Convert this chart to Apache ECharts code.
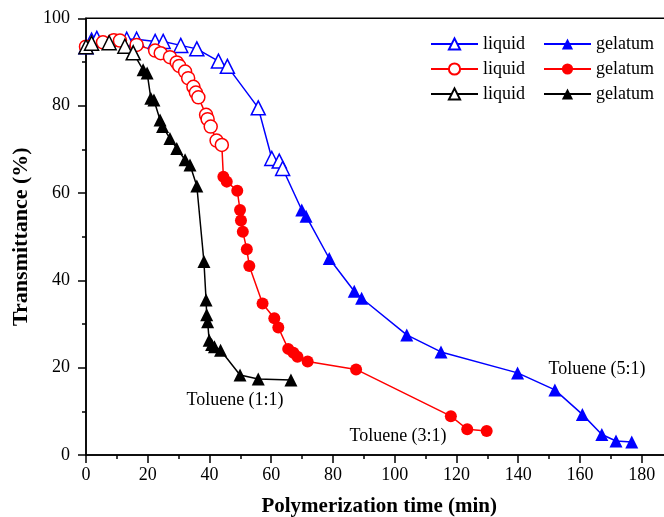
<!DOCTYPE html>
<html><head><meta charset="utf-8">
<script src="https://cdn.jsdelivr.net/npm/echarts@6/dist/echarts.min.js"></script>
<style>html,body{margin:0;padding:0;background:#fff}#c{width:664px;height:517px}</style>
</head><body><div id="c"></div>
<script>
// Toluene (5:1)
var liq51X = [0, 1.8, 3.5, 13.2, 16.4, 22.4, 25.0, 30.7, 35.9, 42.9, 45.8, 55.8, 60.2, 62.6, 63.7];
var liq51Y = [93.5, 95, 95.4, 95.2, 95.2, 94.7, 94.7, 93.8, 93, 90.2, 89, 79.5, 67.9, 67.3, 65.6];
var gel51X = [69.9, 71.3, 78.8, 86.9, 89.3, 103.9, 115, 139.8, 151.9, 160.8, 167.1, 171.7, 176.8];
var gel51Y = [56.1, 54.7, 45.0, 37.5, 35.9, 27.5, 23.6, 18.8, 14.9, 9.3, 4.7, 3.2, 3.0];
// Toluene (3:1)
var liq31X = [0, 5.5, 9, 11.0, 16.4, 22.4, 24.2, 27.2, 29.4, 30.2, 32.1, 33.1, 34.8, 35.6, 36.4, 38.9, 39.4, 40.4, 42.3, 44.0];
var liq31Y = [93.5, 94.5, 95, 94.9, 93.9, 92.6, 92.0, 91.1, 89.9, 89.1, 87.8, 86.3, 84.3, 83.0, 81.9, 77.9, 76.9, 75.2, 72.0, 71.0];
var gel31X = [44.5, 45.6, 49.0, 49.9, 50.2, 50.8, 52.1, 52.9, 57.2, 61.0, 62.3, 65.5, 67.2, 68.5, 71.8, 87.5, 118.2, 123.5, 129.8];
var gel31Y = [63.7, 62.6, 60.5, 56.1, 53.7, 51.1, 47.1, 43.3, 34.7, 31.3, 29.2, 24.3, 23.4, 22.5, 21.4, 19.6, 8.9, 5.9, 5.5];
// Toluene (1:1)
var liq11X = [0, 1.8, 7.5, 12.6, 15.3];
var liq11Y = [93.5, 94.3, 94.4, 93.6, 92.1];
var gel11X = [18.5, 19.8, 21.0, 22.0, 24.0, 24.8, 27.2, 29.4, 32.1, 33.7, 35.9, 38.2, 38.9, 39.1, 39.4, 39.9, 40.7, 41.6, 43.6, 49.9, 55.8, 66.4];
var gel11Y = [88.2, 87.5, 81.7, 81.3, 76.7, 75.2, 72.5, 70.2, 67.6, 66.4, 61.6, 44.3, 35.5, 32.1, 30.5, 26.3, 25.3, 24.8, 24.0, 18.3, 17.4, 17.2];

var xTicks = [0, 20, 40, 60, 80, 100, 120, 140, 160, 180];
var yTicks = [0, 20, 40, 60, 80, 100];
var labels = [
  {text: 'Toluene (1:1)', x: 235, y: 400},
  {text: 'Toluene (3:1)', x: 398, y: 436},
  {text: 'Toluene (5:1)', x: 597, y: 369}
];

var FONT = '"Liberation Serif", "Times New Roman", serif';

function pts(xs, ys) { return xs.map(function (x, i) { return [x, ys[i]]; }); }
function liquidData(xs, ys, gx, gy) {
  var d = pts(xs, ys);
  d.push({value: [gx[0], gy[0]], symbol: 'none'});
  return d;
}

function liquidSeries(name, color, symbol, xs, ys, gx, gy) {
  return {
    name: name, type: 'line', data: liquidData(xs, ys, gx, gy),
    symbol: symbol, symbolSize: symbol === 'circle' ? 13 : 14,
    showAllSymbol: true,
    lineStyle: {color: color, width: 1.5},
    itemStyle: {color: '#fff', borderColor: color, borderWidth: 1.5},
    z: 3
  };
}
function gelSeries(name, color, symbol, xs, ys) {
  return {
    name: name, type: 'line', data: pts(xs, ys),
    symbol: symbol, symbolSize: symbol === 'circle' ? 12 : 13,
    showAllSymbol: true,
    lineStyle: {color: color, width: 1.5},
    itemStyle: {color: color, borderColor: color, borderWidth: 0},
    z: 4
  };
}

var chart = echarts.init(document.getElementById('c'), null, {renderer: 'canvas'});
var legendText = {fontFamily: FONT, fontSize: 18, color: '#000'};
chart.setOption({
  animation: false,
  backgroundColor: '#fff',
  grid: {left: 86, top: 18.3, bottom: 62, right: -8.5, outerBoundsMode: 'none', containLabel: false,
    show: true, borderColor: '#000', borderWidth: 1.5, backgroundColor: 'transparent'},
  legend: [
    {data: ['liquid-51', 'liquid-31', 'liquid-11'], orient: 'vertical', left: 425, top: 30,
     itemWidth: 47, itemHeight: 14, itemGap: 7, textStyle: legendText,
     formatter: function (n) { return n.split('-')[0]; }, selectedMode: false},
    {data: ['gelatum-51', 'gelatum-31', 'gelatum-11'], orient: 'vertical', left: 538, top: 30,
     itemWidth: 47, itemHeight: 14, itemGap: 7, textStyle: legendText,
     formatter: function (n) { return n.split('-')[0]; }, selectedMode: false}
  ],
  xAxis: {
    type: 'value', min: 0, max: 190, interval: 20,
    name: 'Polymerization time (min)', nameLocation: 'middle', nameGap: 41,
    nameTextStyle: {fontFamily: FONT, fontSize: 21, fontWeight: 'bold', color: '#000'},
    axisLine: {show: true, onZero: false, lineStyle: {color: '#000', width: 1.5}},
    axisTick: {show: true, length: 8, lineStyle: {color: '#000', width: 1.5}},
    minorTick: {show: true, splitNumber: 2, length: 4, lineStyle: {color: '#000', width: 1.5}},
    splitLine: {show: false},
    axisLabel: {fontFamily: FONT, fontSize: 18, color: '#000', margin: 11,
      formatter: function (v) { return xTicks.indexOf(v) >= 0 ? String(v) : ''; }}
  },
  yAxis: {
    type: 'value', min: 0, max: 100, interval: 20,
    name: 'Transmittance (%)', nameLocation: 'middle', nameGap: 53,
    nameTextStyle: {fontFamily: FONT, fontSize: 22, fontWeight: 'bold', color: '#000'},
    axisLine: {show: true, onZero: false, lineStyle: {color: '#000', width: 1.5}},
    axisTick: {show: true, length: 8, lineStyle: {color: '#000', width: 1.5}},
    minorTick: {show: true, splitNumber: 2, length: 4, lineStyle: {color: '#000', width: 1.5}},
    splitLine: {show: false},
    axisLabel: {fontFamily: FONT, fontSize: 18, color: '#000', margin: 16,
      formatter: function (v) { return yTicks.indexOf(v) >= 0 ? String(v) : ''; }}
  },
  graphic: labels.map(function (l) {
    return {type: 'text', x: l.x, y: l.y, style: {text: l.text, fontFamily: FONT, fontSize: 18, fill: '#000', textAlign: 'center', textVerticalAlign: 'middle'}};
  }),
  series: [
    liquidSeries('liquid-51', '#0000ff', 'triangle', liq51X, liq51Y, gel51X, gel51Y),
    liquidSeries('liquid-31', '#ff0000', 'circle', liq31X, liq31Y, gel31X, gel31Y),
    liquidSeries('liquid-11', '#000000', 'triangle', liq11X, liq11Y, gel11X, gel11Y),
    gelSeries('gelatum-51', '#0000ff', 'triangle', gel51X, gel51Y),
    gelSeries('gelatum-31', '#ff0000', 'circle', gel31X, gel31Y),
    gelSeries('gelatum-11', '#000000', 'triangle', gel11X, gel11Y)
  ]
});
</script></body></html>
